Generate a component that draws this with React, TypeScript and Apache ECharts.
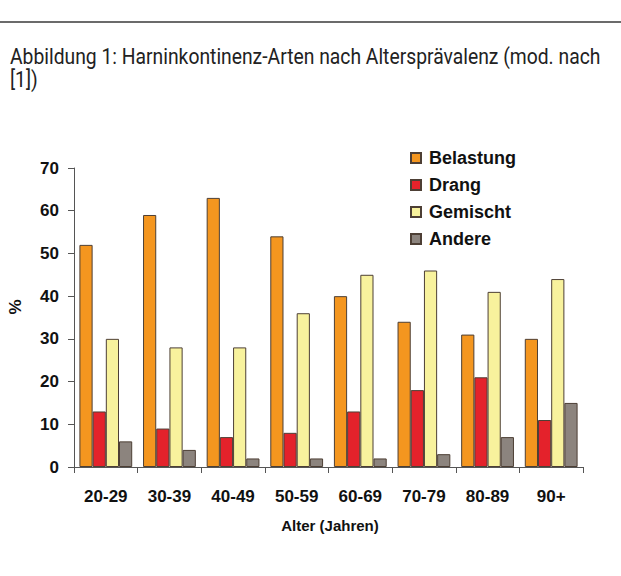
import React, { useEffect, useRef } from "react";
import * as echarts from "echarts";

const categories = ["20-29", "30-39", "40-49", "50-59", "60-69", "70-79", "80-89", "90+"];
const belastung = [52, 59, 63, 54, 40, 34, 31, 30];
const drang = [13, 9, 7, 8, 13, 18, 21, 11];
const gemischt = [30, 28, 28, 36, 45, 46, 41, 44];
const andere = [6, 4, 2, 2, 2, 3, 7, 15];
const seriesNames = ["Belastung", "Drang", "Gemischt", "Andere"];
const yTicks = { min: 0, max: 70, interval: 10 };
const caption1 = "Abbildung 1: Harninkontinenz-Arten nach Altersprävalenz (mod. nach";
const caption2 = "[1])";
const xTitle = "Alter (Jahren)";
const yTitle = "%";

const colors = ["#f4961f", "#e4222b", "#f8f29d", "#8c847e"];
const border = "#4d3f35";
const sans = "'Liberation Sans', Arial, Helvetica, sans-serif";
const capFont = "normal 22px Roboto, 'Liberation Sans', sans-serif";

function measure(text: string, font: string): number {
  const c = document.createElement("canvas").getContext("2d");
  if (!c) return text.length * 10;
  c.font = font;
  return c.measureText(text).width;
}

export default function App() {
  const ref = useRef<HTMLDivElement>(null);
  useEffect(() => {
    document.body.style.margin = "0";
    if (!ref.current) return;
    const chart = echarts.init(ref.current, null, { renderer: "svg" });
    const data = [belastung, drang, gemischt, andere];
    const capScale = 591 / measure(caption1, capFont);
    chart.setOption({
      animation: false,
      backgroundColor: "#ffffff",
      grid: { left: 74, top: 168, width: 509, height: 299, containLabel: false },
      legend: {
        orient: "vertical",
        left: 405,
        top: 144,
        itemWidth: 10,
        itemHeight: 10,
        itemGap: 9,
        icon: "rect",
        textStyle: {
          fontFamily: sans,
          fontWeight: "bold",
          fontSize: 18,
          lineHeight: 18,
          color: "#111",
          padding: [0, 0, 0, 3],
        },
        data: seriesNames,
      },
      xAxis: {
        type: "category",
        data: categories,
        axisLine: { lineStyle: { color: "#555", width: 1 } },
        axisTick: { show: true, length: 6, lineStyle: { color: "#555" } },
        axisLabel: {
          margin: 21,
          fontFamily: sans,
          fontWeight: "bold",
          fontSize: 17,
          color: "#111",
        },
      },
      yAxis: {
        type: "value",
        min: yTicks.min,
        max: yTicks.max,
        interval: yTicks.interval,
        splitLine: { show: false },
        axisLine: { show: true, lineStyle: { color: "#555", width: 1 } },
        axisTick: { show: true, length: 6, lineStyle: { color: "#555" } },
        axisLabel: {
          margin: 15,
          fontFamily: sans,
          fontWeight: "bold",
          fontSize: 17,
          color: "#111",
        },
      },
      series: seriesNames.map((name, i) => ({
        name,
        type: "bar",
        data: data[i],
        barGap: "0%",
        barCategoryGap: "17%",
        itemStyle: { color: colors[i], borderColor: border, borderWidth: 1 },
      })),
      graphic: [
        { type: "rect", left: 0, top: 21, shape: { width: 621, height: 2 }, style: { fill: "#6b6b6b" } },
        {
          type: "text",
          x: 10,
          y: 57,
          scaleX: capScale,
          style: {
            text: caption1,
            font: capFont,
            fill: "#222",
            textVerticalAlign: "middle",
          },
        },
        {
          type: "text",
          x: 10,
          y: 80,
          scaleX: capScale,
          style: {
            text: caption2,
            font: capFont,
            fill: "#222",
            textVerticalAlign: "middle",
          },
        },
        {
          type: "text",
          x: 330,
          y: 525,
          style: {
            text: xTitle,
            font: `bold 15px ${sans}`,
            fill: "#111",
            textAlign: "center",
            textVerticalAlign: "middle",
          },
        },
        {
          type: "text",
          x: 15,
          y: 307,
          rotation: Math.PI / 2,
          style: {
            text: yTitle,
            font: `bold 17px ${sans}`,
            fill: "#111",
            textAlign: "center",
            textVerticalAlign: "middle",
          },
        },
      ],
    });
    return () => chart.dispose();
  }, []);
  return <div ref={ref} style={{ width: 621, height: 576 }} />;
}
